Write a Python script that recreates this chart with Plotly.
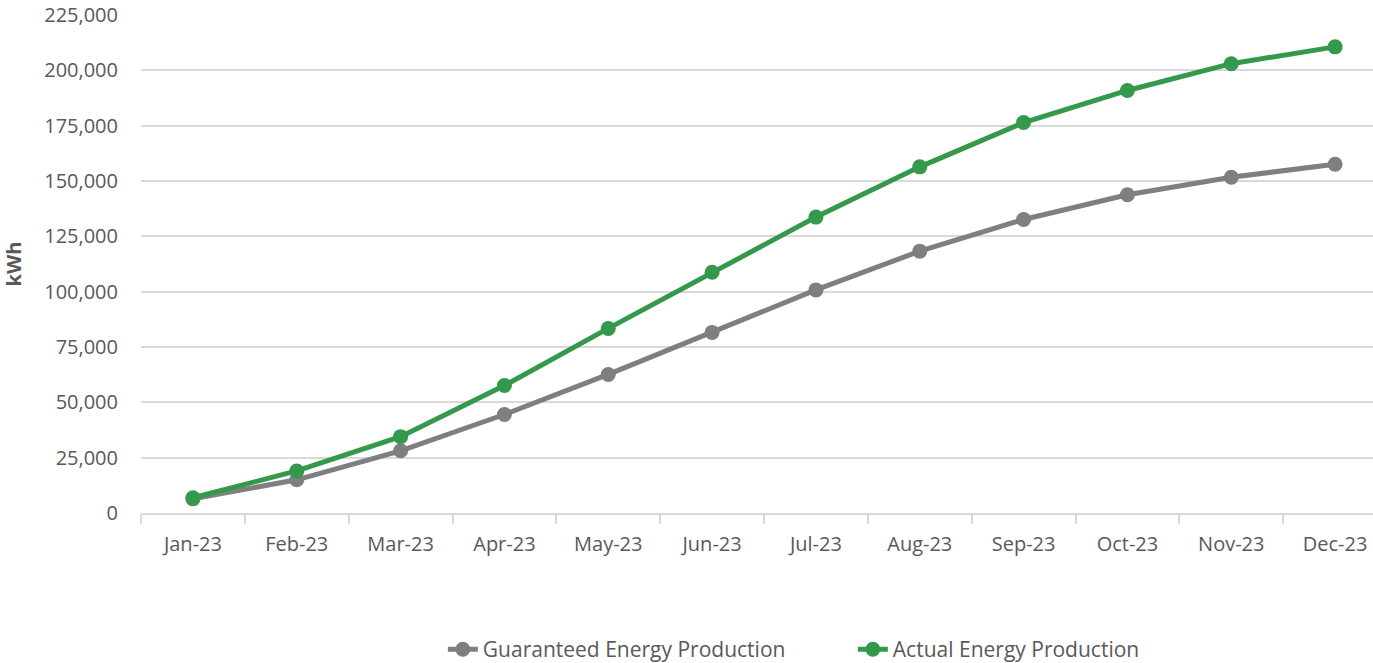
import plotly.graph_objects as go

months = ["Jan-23", "Feb-23", "Mar-23", "Apr-23", "May-23", "Jun-23",
          "Jul-23", "Aug-23", "Sep-23", "Oct-23", "Nov-23", "Dec-23"]
guaranteed = [6400, 15000, 28100, 44500, 62600, 81600, 100800, 118300, 132600, 143800, 151700, 157600]
actual = [6900, 19000, 34500, 57600, 83400, 108800, 133700, 156400, 176400, 190900, 203000, 210600]
y_ticks = [0, 25000, 50000, 75000, 100000, 125000, 150000, 175000, 200000, 225000]

GREEN = "#34994a"
GRAY = "#7f7f7f"
FONT = "Open Sans"

fig = go.Figure()
fig.add_trace(go.Scatter(x=months, y=guaranteed, mode="lines+markers",
                         name="Guaranteed Energy Production",
                         line=dict(color=GRAY, width=5), marker=dict(size=15, color=GRAY)))
fig.add_trace(go.Scatter(x=months, y=actual, mode="lines+markers",
                         name="Actual Energy Production",
                         line=dict(color=GREEN, width=5), marker=dict(size=15, color=GREEN)))

fig.update_layout(
    width=1373, height=663,
    margin=dict(l=141, r=0, t=15, b=150, autoexpand=False),
    paper_bgcolor="white", plot_bgcolor="white",
    font=dict(family=FONT, size=20, color="#595959"),
    showlegend=True,
    legend=dict(orientation="h", x=0.245, xanchor="left", y=-0.233, yanchor="top",
                font=dict(size=21, color="#595959"), entrywidth=365, entrywidthmode="pixels"),
    xaxis=dict(
        type="category", categoryorder="array", categoryarray=months,
        range=[-0.5, 11.365], showgrid=False, zeroline=False, automargin=False,
        showline=True, linecolor="#d9d9d9", linewidth=1.5,
        ticks="outside", ticklen=9, tickcolor="#d9d9d9", tickwidth=1.5,
        tickson="boundaries", ticklabelstandoff=12,
    ),
    yaxis=dict(
        range=[0, 225000], tickvals=y_ticks, tickformat=",", automargin=False,
        showgrid=True, gridcolor="#d9d9d9", gridwidth=1.5, ticklabeloverflow="allow",
        zeroline=False, showline=False, ticks="", ticklabelstandoff=22,
        title=dict(text="<b>kWh</b>", font=dict(size=20, color="#595959"), standoff=26),
    ),
)

fig.write_html("out.html", config={"displayModeBar": False},
               post_script="document.body.style.margin='0';document.body.style.overflow='hidden';")
